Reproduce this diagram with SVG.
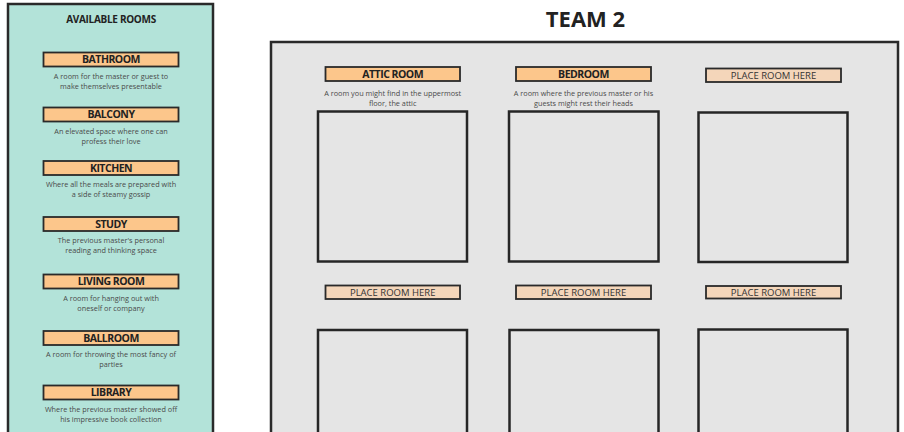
<svg xmlns="http://www.w3.org/2000/svg" width="904" height="432" viewBox="0 0 904 432">
<style>
text{font-family:"Open Sans","Noto Sans","Liberation Sans",sans-serif;text-anchor:middle}
.panel{stroke:#2a2a2a;stroke-width:2.5}
.lbl{fill:#fcc68b;stroke:#2a2a2a;stroke-width:1.8}
.ph{fill:#f4d6ba;stroke:#2a2a2a;stroke-width:1.8}
.lt{font-size:10.5px;font-weight:700;fill:#222;letter-spacing:-0.5px}
.pt{font-size:9.5px;fill:#333}
.d{font-size:7.3px;fill:#4a4a4a}
.sq{fill:none;stroke:#262626;stroke-width:2.5}
.h{font-size:10px;font-weight:700;fill:#222;letter-spacing:-0.3px}
</style>
<rect width="904" height="432" fill="#ffffff"/>
<g id="available-rooms">
<rect class="panel" x="8" y="4" width="205" height="440" fill="#b3e3d9"/>
<text class="h" x="111" y="23.3">AVAILABLE ROOMS</text>
</g>
<g id="bathroom"><rect class="lbl" x="43.5" y="52.5" width="135" height="14"/><text class="lt" x="111" y="63">BATHROOM</text><text class="d" x="111" y="79">A room for the master or guest to</text><text class="d" x="111" y="89">make themselves presentable</text></g>
<g id="balcony"><rect class="lbl" x="43.5" y="107.5" width="135" height="14"/><text class="lt" x="111" y="118">BALCONY</text><text class="d" x="111" y="133.5">An elevated space where one can</text><text class="d" x="111" y="143.5">profess their love</text></g>
<g id="kitchen"><rect class="lbl" x="43.5" y="161" width="135" height="14"/><text class="lt" x="111" y="171.5">KITCHEN</text><text class="d" x="111" y="186.8">Where all the meals are prepared with</text><text class="d" x="111" y="196.8">a side of steamy gossip</text></g>
<g id="study"><rect class="lbl" x="43.5" y="217" width="135" height="14"/><text class="lt" x="111" y="227.5">STUDY</text><text class="d" x="111" y="243.2">The previous master's personal</text><text class="d" x="111" y="253.2">reading and thinking space</text></g>
<g id="living-room"><rect class="lbl" x="43.5" y="274.5" width="135" height="14"/><text class="lt" x="111" y="285">LIVING ROOM</text><text class="d" x="111" y="300.5">A room for hanging out with</text><text class="d" x="111" y="310.5">oneself or company</text></g>
<g id="ballroom"><rect class="lbl" x="43.5" y="331" width="135" height="14"/><text class="lt" x="111" y="341.5">BALLROOM</text><text class="d" x="111" y="356.8">A room for throwing the most fancy of</text><text class="d" x="111" y="366.8">parties</text></g>
<g id="library"><rect class="lbl" x="43.5" y="385.5" width="135" height="14"/><text class="lt" x="111" y="396">LIBRARY</text><text class="d" x="111" y="411.5">Where the previous master showed off</text><text class="d" x="111" y="421.5">his impressive book collection</text></g>

<g id="team2">
<text x="585.5" y="26.5" font-size="22" font-weight="700" fill="#222">TEAM 2</text>
<rect class="panel" x="271" y="42" width="627" height="410" fill="#e5e5e5"/>
</g>
<g id="attic-room"><rect class="lbl" x="325.5" y="67" width="134.5" height="14"/><text class="lt" x="392.7" y="77.5">ATTIC ROOM</text><text class="d" x="392.7" y="95.8">A room you might find in the uppermost</text><text class="d" x="392.7" y="105.8">floor, the attic</text><rect class="sq" x="318" y="111.5" width="149" height="150"/></g>
<g id="bedroom"><rect class="lbl" x="516" y="67" width="135" height="14"/><text class="lt" x="583.5" y="77.5">BEDROOM</text><text class="d" x="583.5" y="95.8">A room where the previous master or his</text><text class="d" x="583.5" y="105.8">guests might rest their heads</text><rect class="sq" x="509" y="111.5" width="149.5" height="150"/></g>
<g id="slot-3"><rect class="ph" x="706" y="68.5" width="135" height="13.5"/><text class="pt" x="773.5" y="78.5">PLACE ROOM HERE</text><rect class="sq" x="698.5" y="112.5" width="149" height="149.5"/></g>
<g id="slot-4"><rect class="ph" x="325.5" y="285.5" width="134.5" height="13.5"/><text class="pt" x="392.7" y="295.5">PLACE ROOM HERE</text><rect class="sq" x="318" y="330" width="149" height="130"/></g>
<g id="slot-5"><rect class="ph" x="516" y="285.5" width="135" height="13.5"/><text class="pt" x="583.5" y="295.5">PLACE ROOM HERE</text><rect class="sq" x="509.5" y="330" width="149" height="130"/></g>
<g id="slot-6"><rect class="ph" x="706" y="286" width="135" height="12.5"/><text class="pt" x="773.5" y="295.5">PLACE ROOM HERE</text><rect class="sq" x="698.5" y="329.5" width="149" height="130"/></g>
<g id="connectors"></g>
</svg>
